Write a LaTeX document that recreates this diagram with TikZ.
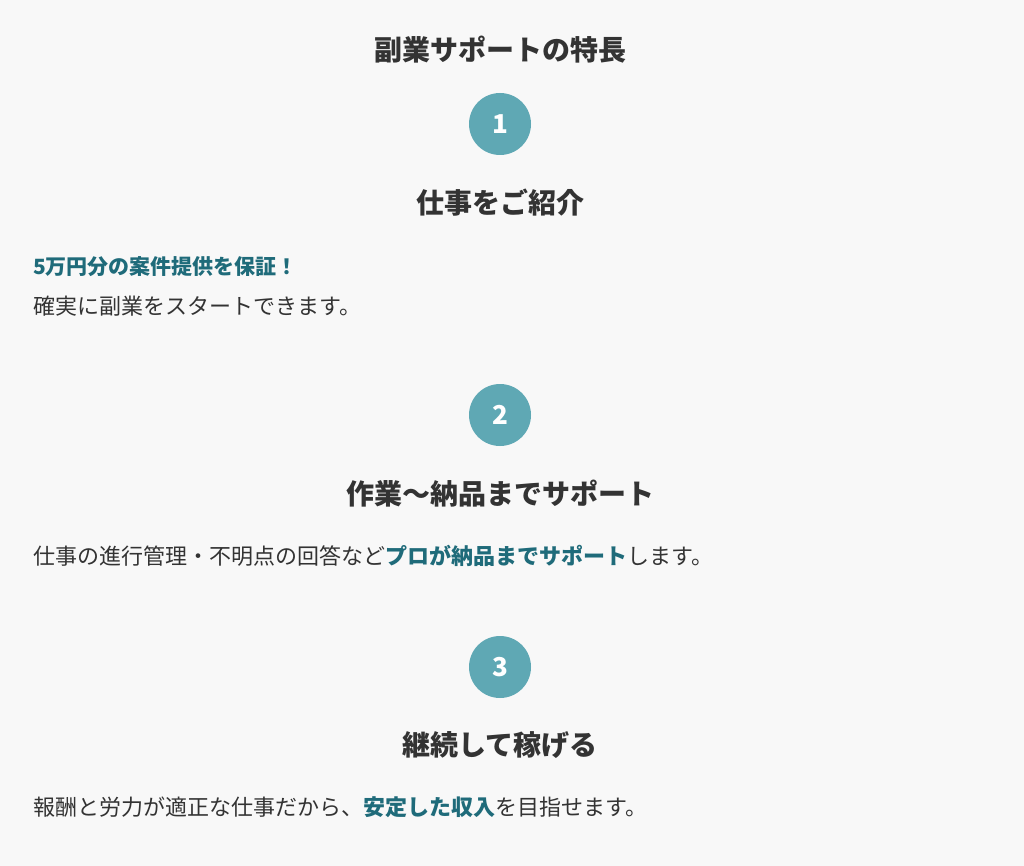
\documentclass[tikz,border=0pt]{standalone}
\usepackage{fontspec}
\setmainfont{Noto Sans CJK JP}
\definecolor{bg}{HTML}{F8F8F8}
\definecolor{circ}{HTML}{5FA8B4}
\definecolor{txt}{HTML}{333333}
\definecolor{hl}{HTML}{1F6B7A}
\tikzset{
 num/.style={circle,fill=circ,minimum size=62pt,inner sep=0,text=white,font=\fontsize{26}{26}\selectfont\bfseries},
 head/.style={text=txt,font=\fontsize{28}{28}\selectfont\bfseries,inner sep=0},
 body/.style={text=txt,font=\fontsize{22}{22}\selectfont,anchor=west,inner sep=0},
}
\newcommand{\hlt}[1]{{\bfseries\color{hl}#1}}
\begin{document}
\begin{tikzpicture}[x=1pt,y=-1pt]
\fill[bg] (0,0) rectangle (1024,866);
\node[head] (t) at (500,50) {副業サポートの特長};
\node[num] (n1) at (500,124) {1};
\node[head] (h1) at (500,203) {仕事をご紹介};
\node[body,font=\fontsize{21}{21}\selectfont\bfseries,text=hl] (b1a) at (33,267) {5万円分の案件提供を保証！};
\node[body] (b1b) at (33,306) {確実に副業をスタートできます。};
\node[num] (n2) at (500,415) {2};
\node[head] (h2) at (500,494) {作業〜納品までサポート};
\node[body] (b2) at (33,556) {仕事の進行管理・不明点の回答など\hlt{プロが納品までサポート}します。};
\node[num] (n3) at (500,667) {3};
\node[head] (h3) at (500,745) {継続して稼げる};
\node[body] (b3) at (33,807) {報酬と労力が適正な仕事だから、\hlt{安定した収入}を目指せます。};
\end{tikzpicture}
\end{document}
